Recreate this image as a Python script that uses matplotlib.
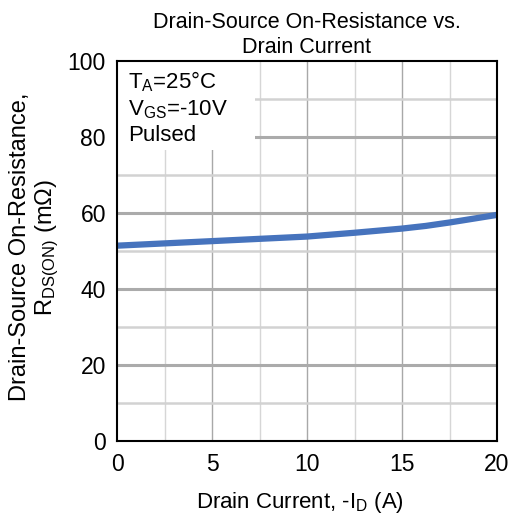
import matplotlib
matplotlib.use("Agg")
import matplotlib.pyplot as plt
from matplotlib.patches import Rectangle
import numpy as np

plt.rcParams['font.family'] = ['Liberation Sans', 'DejaVu Sans']
plt.rcParams['mathtext.fontset'] = 'custom'
plt.rcParams['mathtext.rm'] = 'Liberation Sans'
plt.rcParams['mathtext.it'] = 'Liberation Sans'

current_a = [0, 1.25, 2.5, 3.75, 5, 7.5, 10, 12.5, 15, 16.25, 17.5, 18.75, 20]
rds_mohm = [51.4, 51.7, 52.0, 52.3, 52.6, 53.2, 53.8, 54.8, 55.9, 56.6, 57.5, 58.5, 59.5]

x_ticks = [0, 5, 10, 15, 20]
y_ticks = [0, 20, 40, 60, 80, 100]

fig = plt.figure(figsize=(5.12, 5.17), dpi=100)
ax = fig.add_axes([117/512, 1-441/517, 380/512, 380/517])

ax.set_xlim(0, 20)
ax.set_ylim(0, 100)

for v in [2.5, 7.5, 12.5, 17.5]:
    ax.axvline(v, color='#d6d6d6', lw=1.0, zorder=0)
for v in [5, 10, 15]:
    ax.axvline(v, color='#a8a8a8', lw=1.0, zorder=0)
for h in [10, 30, 50, 70, 90]:
    ax.axhline(h, color='#d2d2d2', lw=1.8, zorder=0)
for h in [20, 40, 60, 80]:
    ax.axhline(h, color='#ababab', lw=2.2, zorder=0)

ax.plot(current_a, rds_mohm, color='#4673bd', lw=4.5, solid_capstyle='round', zorder=3)

ax.set_xticks(x_ticks)
ax.set_yticks(y_ticks)
ax.tick_params(axis='both', length=0, labelsize=16.5)
ax.tick_params(axis='x', pad=8.5)
ax.tick_params(axis='y', pad=8)
for s in ax.spines.values():
    s.set_linewidth(1.5)
    s.set_color('black')
    s.set_zorder(5)

ax.add_patch(Rectangle((0, (441-150)/380), (255-117)/380, (150-61)/380,
                       transform=ax.transAxes, facecolor='white', edgecolor='none', zorder=1))
ax.text(0.028, 0.977, 'T$_\\mathregular{A}$=25°C\nV$_\\mathregular{GS}$=-10V\nPulsed',
        transform=ax.transAxes, ha='left', va='top', fontsize=16, linespacing=1.25, zorder=4)

ax.set_title('Drain-Source On-Resistance vs.\nDrain Current', fontsize=15.5, pad=6, linespacing=1.2)
ax.set_xlabel('Drain Current, -I$_\\mathregular{D}$ (A)', fontsize=16)
ax.xaxis.set_label_coords((300-117)/380, -(490-441)/380)
ax.set_ylabel('Drain-Source On-Resistance,\nR$_\\mathregular{DS(ON)}$ (mΩ)', fontsize=17, linespacing=1.15)
ax.yaxis.set_label_coords(-(117-61)/380, (441-247)/380)

fig.savefig('out.png', dpi=100)
